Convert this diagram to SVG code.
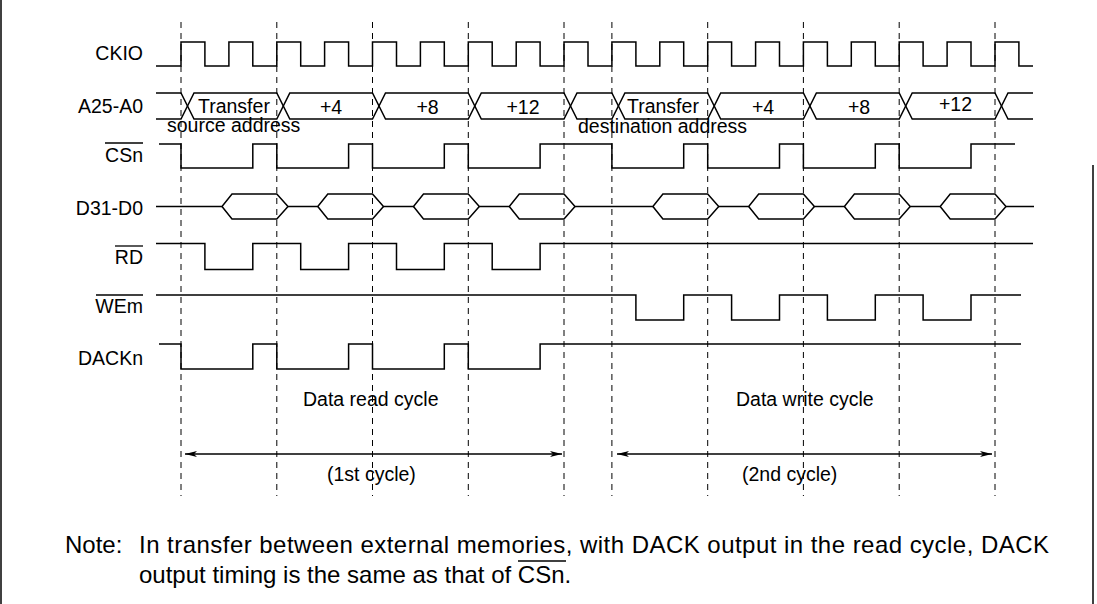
<svg xmlns="http://www.w3.org/2000/svg" width="1097" height="604" viewBox="0 0 1097 604">
<defs>
<style>
.lbl{font-family:"Liberation Sans",Arial,sans-serif;font-size:19.5px;fill:#000}
.note{font-family:"Liberation Sans",Arial,sans-serif;font-size:24px;fill:#000}
.sig{fill:none;stroke:#000;stroke-width:1.5}
.ovl{stroke:#000;stroke-width:1.3}
.grid{stroke:#000;stroke-width:1;stroke-dasharray:6 5}
.arr{stroke:#000;stroke-width:1.5;fill:none;marker-start:url(#ah);marker-end:url(#ah)}
</style>
<marker id="ah" viewBox="0 0 12 6" refX="12" refY="3" markerWidth="12" markerHeight="6" markerUnits="userSpaceOnUse" orient="auto-start-reverse">
<path d="M0,0 L12,3 L0,6 L3,3 Z" fill="#000"/>
</marker>
</defs>
<rect width="1097" height="604" fill="#fff"/>
<g id="frame" stroke="#000" stroke-width="1.5" fill="none">
<line x1="1" y1="0" x2="1" y2="604"/>
<line x1="1093" y1="165" x2="1093" y2="604"/>
</g>
<g id="gridlines">
<line class="grid" x1="181" y1="22" x2="181" y2="496"/>
<line class="grid" x1="276.8" y1="22" x2="276.8" y2="496"/>
<line class="grid" x1="372.5" y1="22" x2="372.5" y2="496"/>
<line class="grid" x1="468.3" y1="22" x2="468.3" y2="496"/>
<line class="grid" x1="564" y1="22" x2="564" y2="496"/>
<line class="grid" x1="611.9" y1="22" x2="611.9" y2="496"/>
<line class="grid" x1="707.7" y1="22" x2="707.7" y2="496"/>
<line class="grid" x1="803.4" y1="22" x2="803.4" y2="496"/>
<line class="grid" x1="899.2" y1="22" x2="899.2" y2="496"/>
<line class="grid" x1="995" y1="22" x2="995" y2="496"/>
</g>
<g id="ckio">
<text class="lbl" x="143" y="60" text-anchor="end">CKIO</text>
<path class="sig" d="M156,66 H181 V42 H204.9 V66 H228.9 V42 H252.8 V66 H276.8 V42 H300.7 V66 H324.6 V42 H348.6 V66 H372.5 V42 H396.5 V66 H420.4 V42 H444.3 V66 H468.3 V42 H492.2 V66 H516.2 V42 H540.1 V66 H564 V42 H588 V66 H611.9 V42 H635.9 V66 H659.8 V42 H683.7 V66 H707.7 V42 H731.6 V66 H755.6 V42 H779.5 V66 H803.4 V42 H827.4 V66 H851.3 V42 H875.3 V66 H899.2 V42 H923.1 V66 H947.1 V42 H971 V66 H995 V42 H1018.9 V66 H1033"/>
</g>
<g id="addr">
<text class="lbl" x="143" y="113" text-anchor="end">A25-A0</text>
<path class="sig" d="M156,93 H181 L194,119 H276.8 L289.8,93 H372.5 L385.5,119 H468.3 L481.3,93 H564 L577,119 H611.9 L624.9,93 H707.7 L720.7,119 H803.4 L816.4,93 H899.2 L912.2,119 H995 L1008,93 H1033"/>
<path class="sig" d="M156,119 H181 L194,93 H276.8 L289.8,119 H372.5 L385.5,93 H468.3 L481.3,119 H564 L577,93 H611.9 L624.9,119 H707.7 L720.7,93 H803.4 L816.4,119 H899.2 L912.2,93 H995 L1008,119 H1033"/>
<text class="lbl" x="198" y="113">Transfer</text>
<text class="lbl" x="167" y="132">source address</text>
<text class="lbl" x="331" y="114" text-anchor="middle">+4</text>
<text class="lbl" x="427.5" y="114" text-anchor="middle">+8</text>
<text class="lbl" x="523" y="114" text-anchor="middle">+12</text>
<text class="lbl" x="627" y="113">Transfer</text>
<text class="lbl" x="578" y="133">destination address</text>
<text class="lbl" x="763" y="114" text-anchor="middle">+4</text>
<text class="lbl" x="859" y="114" text-anchor="middle">+8</text>
<text class="lbl" x="955.5" y="111" text-anchor="middle">+12</text>
</g>
<g id="csn">
<text class="lbl" x="143" y="162" text-anchor="end">CSn</text>
<line class="ovl" x1="105" y1="143" x2="143" y2="143"/>
<path class="sig" d="M159,144 H181 V168 H252.8 V144 H276.8 V168 H348.6 V144 H372.5 V168 H444.3 V144 H468.3 V168 H540.1 V144 H611.9 V168 H683.7 V144 H707.7 V168 H779.5 V144 H803.4 V168 H875.3 V144 H899.2 V168 H971 V144 H1015"/>
</g>
<g id="data">
<text class="lbl" x="143" y="215" text-anchor="end">D31-D0</text>
<path class="sig" d="M156,206.5 H222 L232,194 H276.8 L288,206.5 H317.8 L327.8,194 H372.5 L383.5,206.5 H413.5 L423.5,194 H468.3 L479.3,206.5 H509.3 L519.3,194 H564 L575,206.5 H652.9 L662.9,194 H707.7 L718.7,206.5 H748.7 L758.7,194 H803.4 L814.4,206.5 H844.4 L854.4,194 H899.2 L910.2,206.5 H940.2 L950.2,194 H995 L1006,206.5 H1034"/>
<path class="sig" d="M222,206.5 L232,219 H276.8 L288,206.5 M317.8,206.5 L327.8,219 H372.5 L383.5,206.5 M413.5,206.5 L423.5,219 H468.3 L479.3,206.5 M509.3,206.5 L519.3,219 H564 L575,206.5 M652.9,206.5 L662.9,219 H707.7 L718.7,206.5 M748.7,206.5 L758.7,219 H803.4 L814.4,206.5 M844.4,206.5 L854.4,219 H899.2 L910.2,206.5 M940.2,206.5 L950.2,219 H995 L1006,206.5"/>
</g>
<g id="rd">
<text class="lbl" x="143" y="264" text-anchor="end">RD</text>
<line class="ovl" x1="115" y1="246" x2="143" y2="246"/>
<path class="sig" d="M156,243.5 H204.9 V269.5 H252.8 V243.5 H300.7 V269.5 H348.6 V243.5 H396.5 V269.5 H444.3 V243.5 H492.2 V269.5 H540.1 V243.5 H1033"/>
</g>
<g id="wem">
<text class="lbl" x="143" y="313" text-anchor="end">WEm</text>
<line class="ovl" x1="96" y1="295" x2="143" y2="295"/>
<path class="sig" d="M156,295 H635.9 V320 H683.7 V295 H731.6 V320 H779.5 V295 H827.4 V320 H875.3 V295 H923.1 V320 H971 V295 H1021"/>
</g>
<g id="dackn">
<text class="lbl" x="143" y="365" text-anchor="end">DACKn</text>
<path class="sig" d="M159,344 H181 V369 H252.8 V344 H276.8 V369 H348.6 V344 H372.5 V369 H444.3 V344 H468.3 V369 H540.1 V344 H1021"/>
</g>
<g id="cycle-labels">
<text class="lbl" x="303" y="406">Data read cycle</text>
<text class="lbl" x="736" y="406">Data write cycle</text>
<text class="lbl" x="327" y="481">(1st cycle)</text>
<text class="lbl" x="742" y="481">(2nd cycle)</text>
</g>
<g id="connectors">
<line class="arr" x1="185" y1="454" x2="562" y2="454"/>
<line class="arr" x1="617" y1="454" x2="992" y2="454"/>
</g>
<g id="note">
<text class="note" x="65" y="553">Note:</text>
<text class="note" x="139" y="553" textLength="910" lengthAdjust="spacing">In transfer between external memories, with DACK output in the read cycle, DACK</text>
<text class="note" x="139" y="583">output timing is the same as that of CSn.</text>
<line class="ovl" x1="518" y1="561" x2="566" y2="561"/>
</g>
</svg>
